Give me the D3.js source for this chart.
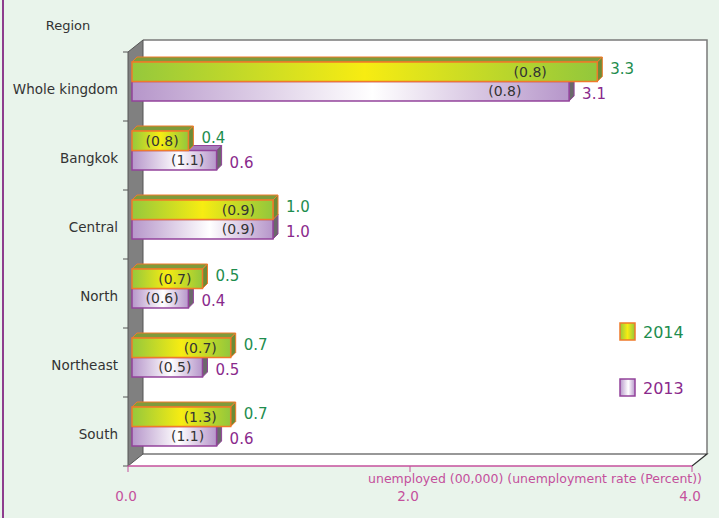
<!DOCTYPE html>
<html lang="en">
  <head>
    <meta charset="utf-8">
    <title>Unemployed by region</title>
    <script src="https://d3js.org/d3.v7.min.js"></script>
    <style>
      body { margin: 0; background: #e9f4eb; }
      text { font-family: "DejaVu Sans", sans-serif; }
    </style>
  </head>
  <body>
    <script>

      // data
      var regions = ["Whole kingdom", "Bangkok", "Central", "North", "Northeast", "South"];
      var years = ["2014", "2013"];
      var unemployed2014 = [3.3, 0.4, 1.0, 0.5, 0.7, 0.7];
      var unemployed2013 = [3.1, 0.6, 1.0, 0.4, 0.5, 0.6];
      var rate2014 = ["(0.8)", "(0.8)", "(0.9)", "(0.7)", "(0.7)", "(1.3)"];
      var rate2013 = ["(0.8)", "(1.1)", "(0.9)", "(0.6)", "(0.5)", "(1.1)"];
      var xTicks = [0, 2, 4];

      var W = 719, H = 518;
      var dx = 15, dy = 12;      // depth of the box
      var bx = 5, by = 5;        // depth of each bar

      var svg = d3.select("body").append("svg")
                  .attr("width", W)
                  .attr("height", H);

      svg.append("rect").attr("width", W).attr("height", H).attr("fill", "#e9f4eb");
      svg.append("line").attr("x1", 3).attr("x2", 3).attr("y1", 0).attr("y2", H)
         .attr("stroke", "#8e3c8e").attr("stroke-width", 2);

      var x = d3.scaleLinear().domain([0, 4]).range([128, 692]);
      var y = d3.scaleBand().domain(regions).range([52, 466]);          // front of box
      var yb = d3.scaleBand().domain(regions).range([47, 461])           // bars, pushed back a little
                 .paddingInner(0.435).paddingOuter(0.2175);
      var ys = d3.scaleBand().domain(years).range([0, yb.bandwidth()]);

      var yTop = 52, yBot = 466;

      // gradients
      var defs = svg.append("defs");
      var g14 = defs.append("linearGradient").attr("id", "g2014");
      g14.append("stop").attr("offset", "0%").attr("stop-color", "#95c83c");
      g14.append("stop").attr("offset", "50%").attr("stop-color", "#f7ec12");
      g14.append("stop").attr("offset", "100%").attr("stop-color", "#92c73c");
      var g13 = defs.append("linearGradient").attr("id", "g2013");
      g13.append("stop").attr("offset", "0%").attr("stop-color", "#b696ca");
      g13.append("stop").attr("offset", "55%").attr("stop-color", "#ffffff");
      g13.append("stop").attr("offset", "100%").attr("stop-color", "#b696ca");

      // back wall
      svg.append("path")
         .attr("d", "M" + (x(0) + dx) + "," + (yTop - dy) + "H" + (x(4) + dx) + "V" + (yBot - dy) + "H" + (x(0) + dx) + "Z")
         .attr("fill", "#fff").attr("stroke", "none");
      svg.append("path")
         .attr("d", "M" + (x(0) + dx) + "," + (yTop - dy) + "H" + (x(4) + dx) + "V" + (yBot - dy))
         .attr("fill", "none").attr("stroke", "#7a7a7a").attr("stroke-width", 1.5);

      // floor
      svg.append("path")
         .attr("d", "M" + x(0) + "," + yBot + "L" + (x(0) + dx) + "," + (yBot - dy) + "H" + (x(4) + dx) +
                    "L" + x(4) + "," + yBot + "Z")
         .attr("fill", "#fff");
      svg.append("path")
         .attr("d", "M" + (x(0) + dx) + "," + (yBot - dy) + "H" + (x(4) + dx) + "L" + x(4) + "," + yBot)
         .attr("fill", "none").attr("stroke", "#333").attr("stroke-width", 1.2);

      // left wall
      svg.append("path")
         .attr("d", "M" + x(0) + "," + yTop + "L" + (x(0) + dx) + "," + (yTop - dy) + "V" + (yBot - dy) +
                    "L" + x(0) + "," + yBot + "Z")
         .attr("fill", "#808080").attr("stroke", "#555").attr("stroke-width", 1);

      // category ticks on the left
      var bounds = regions.map(function(r) { return y(r); }).concat([yBot]);
      svg.selectAll("line.ytick").data(bounds).enter().append("line")
         .attr("class", "ytick")
         .attr("x1", x(0) - 5).attr("x2", x(0))
         .attr("y1", function(d) { return d; }).attr("y2", function(d) { return d; })
         .attr("stroke", "#555");

      // category labels
      svg.selectAll("text.cat").data(regions).enter().append("text")
         .attr("class", "cat")
         .attr("x", 118)
         .attr("y", function(d) { return y(d) + y.bandwidth() / 2 + 3; })
         .attr("dominant-baseline", "middle")
         .attr("text-anchor", "end")
         .attr("font-size", 13.5)
         .attr("fill", "#333")
         .text(function(d) { return d; });

      svg.append("text").attr("x", 68).attr("y", 26)
         .attr("text-anchor", "middle").attr("dominant-baseline", "middle")
         .attr("font-size", 13).attr("fill", "#333").text("Region");

      // bars
      var series = [
        { year: "2013", vals: unemployed2013, rates: rate2013, fill: "url(#g2013)", stroke: "#93439b",
          topFill: "#a77fbb", sideFill: "#6a6a6a", label: "#8a2a8c", labelDy: 3 },
        { year: "2014", vals: unemployed2014, rates: rate2014, fill: "url(#g2014)", stroke: "#f07a2a",
          topFill: "#7e9b3b", sideFill: "#6c8c36", label: "#1e8d4e", labelDy: -2 }
      ];

      series.forEach(function(s) {
        var g = svg.append("g");
        regions.forEach(function(r, i) {
          var v = s.vals[i];
          var x0 = x(0) + 4, x1 = x(v) + 4;
          var y0 = yb(r) + ys(s.year), h = ys.bandwidth();
          g.append("path")
           .attr("d", "M" + x0 + "," + y0 + "L" + (x0 + bx) + "," + (y0 - by) + "H" + (x1 + bx) + "L" + x1 + "," + y0 + "Z")
           .attr("fill", s.topFill).attr("stroke", s.stroke).attr("stroke-width", 1);
          g.append("path")
           .attr("d", "M" + x1 + "," + y0 + "L" + (x1 + bx) + "," + (y0 - by) + "V" + (y0 + h - by) + "L" + x1 + "," + (y0 + h) + "Z")
           .attr("fill", s.sideFill).attr("stroke", s.stroke).attr("stroke-width", 1);
          g.append("rect")
           .attr("x", x0).attr("y", y0).attr("width", x1 - x0).attr("height", h)
           .attr("fill", s.fill).attr("stroke", s.stroke).attr("stroke-width", 1.5);
          // rate in brackets inside the bar
          g.append("text")
           .attr("x", x(v * 0.9))
           .attr("y", y0 + h / 2 + 1)
           .attr("text-anchor", "end").attr("dominant-baseline", "middle")
           .attr("font-size", 14).attr("fill", "#333")
           .text(s.rates[i]);
          // value beside the bar
          g.append("text")
           .attr("x", x1 + 13)
           .attr("y", y0 + h / 2 + s.labelDy)
           .attr("dominant-baseline", "middle")
           .attr("font-size", 15).attr("fill", s.label)
           .text(d3.format(".1f")(v));
        });
      });

      // x axis (front edge of floor)
      var pink = "#c4509c";
      svg.append("line").attr("x1", x(0)).attr("x2", x(4)).attr("y1", yBot).attr("y2", yBot)
         .attr("stroke", pink).attr("stroke-width", 1.5);
      svg.selectAll("line.xtick").data(xTicks).enter().append("line")
         .attr("class", "xtick")
         .attr("x1", function(d) { return x(d); }).attr("x2", function(d) { return x(d); })
         .attr("y1", yBot).attr("y2", yBot + 6)
         .attr("stroke", pink);
      svg.selectAll("text.xtick").data(xTicks).enter().append("text")
         .attr("class", "xtick")
         .attr("x", function(d) { return x(d) - 2; })
         .attr("y", 497)
         .attr("text-anchor", "middle").attr("dominant-baseline", "middle")
         .attr("font-size", 13.5).attr("fill", pink)
         .text(function(d) { return d3.format(".1f")(d); });
      svg.append("text").attr("x", 702).attr("y", 479)
         .attr("text-anchor", "end").attr("dominant-baseline", "middle")
         .attr("font-size", 12.5).attr("fill", pink)
         .text("unemployed (00,000) (unemployment rate (Percent))");

      // legend
      var legend = [
        { year: "2014", fill: "url(#g2014)", stroke: "#f07a2a", color: "#1e8d4e", y: 323 },
        { year: "2013", fill: "url(#g2013)", stroke: "#93439b", color: "#8a2a8c", y: 379 }
      ];
      legend.forEach(function(l) {
        svg.append("rect").attr("x", 620).attr("y", l.y).attr("width", 15).attr("height", 17)
           .attr("fill", l.fill).attr("stroke", l.stroke).attr("stroke-width", 1.5);
        svg.append("text").attr("x", 643).attr("y", l.y + 10)
           .attr("dominant-baseline", "middle").attr("font-size", 16).attr("fill", l.color)
           .text(l.year);
      });
    </script>
  </body>
</html>
